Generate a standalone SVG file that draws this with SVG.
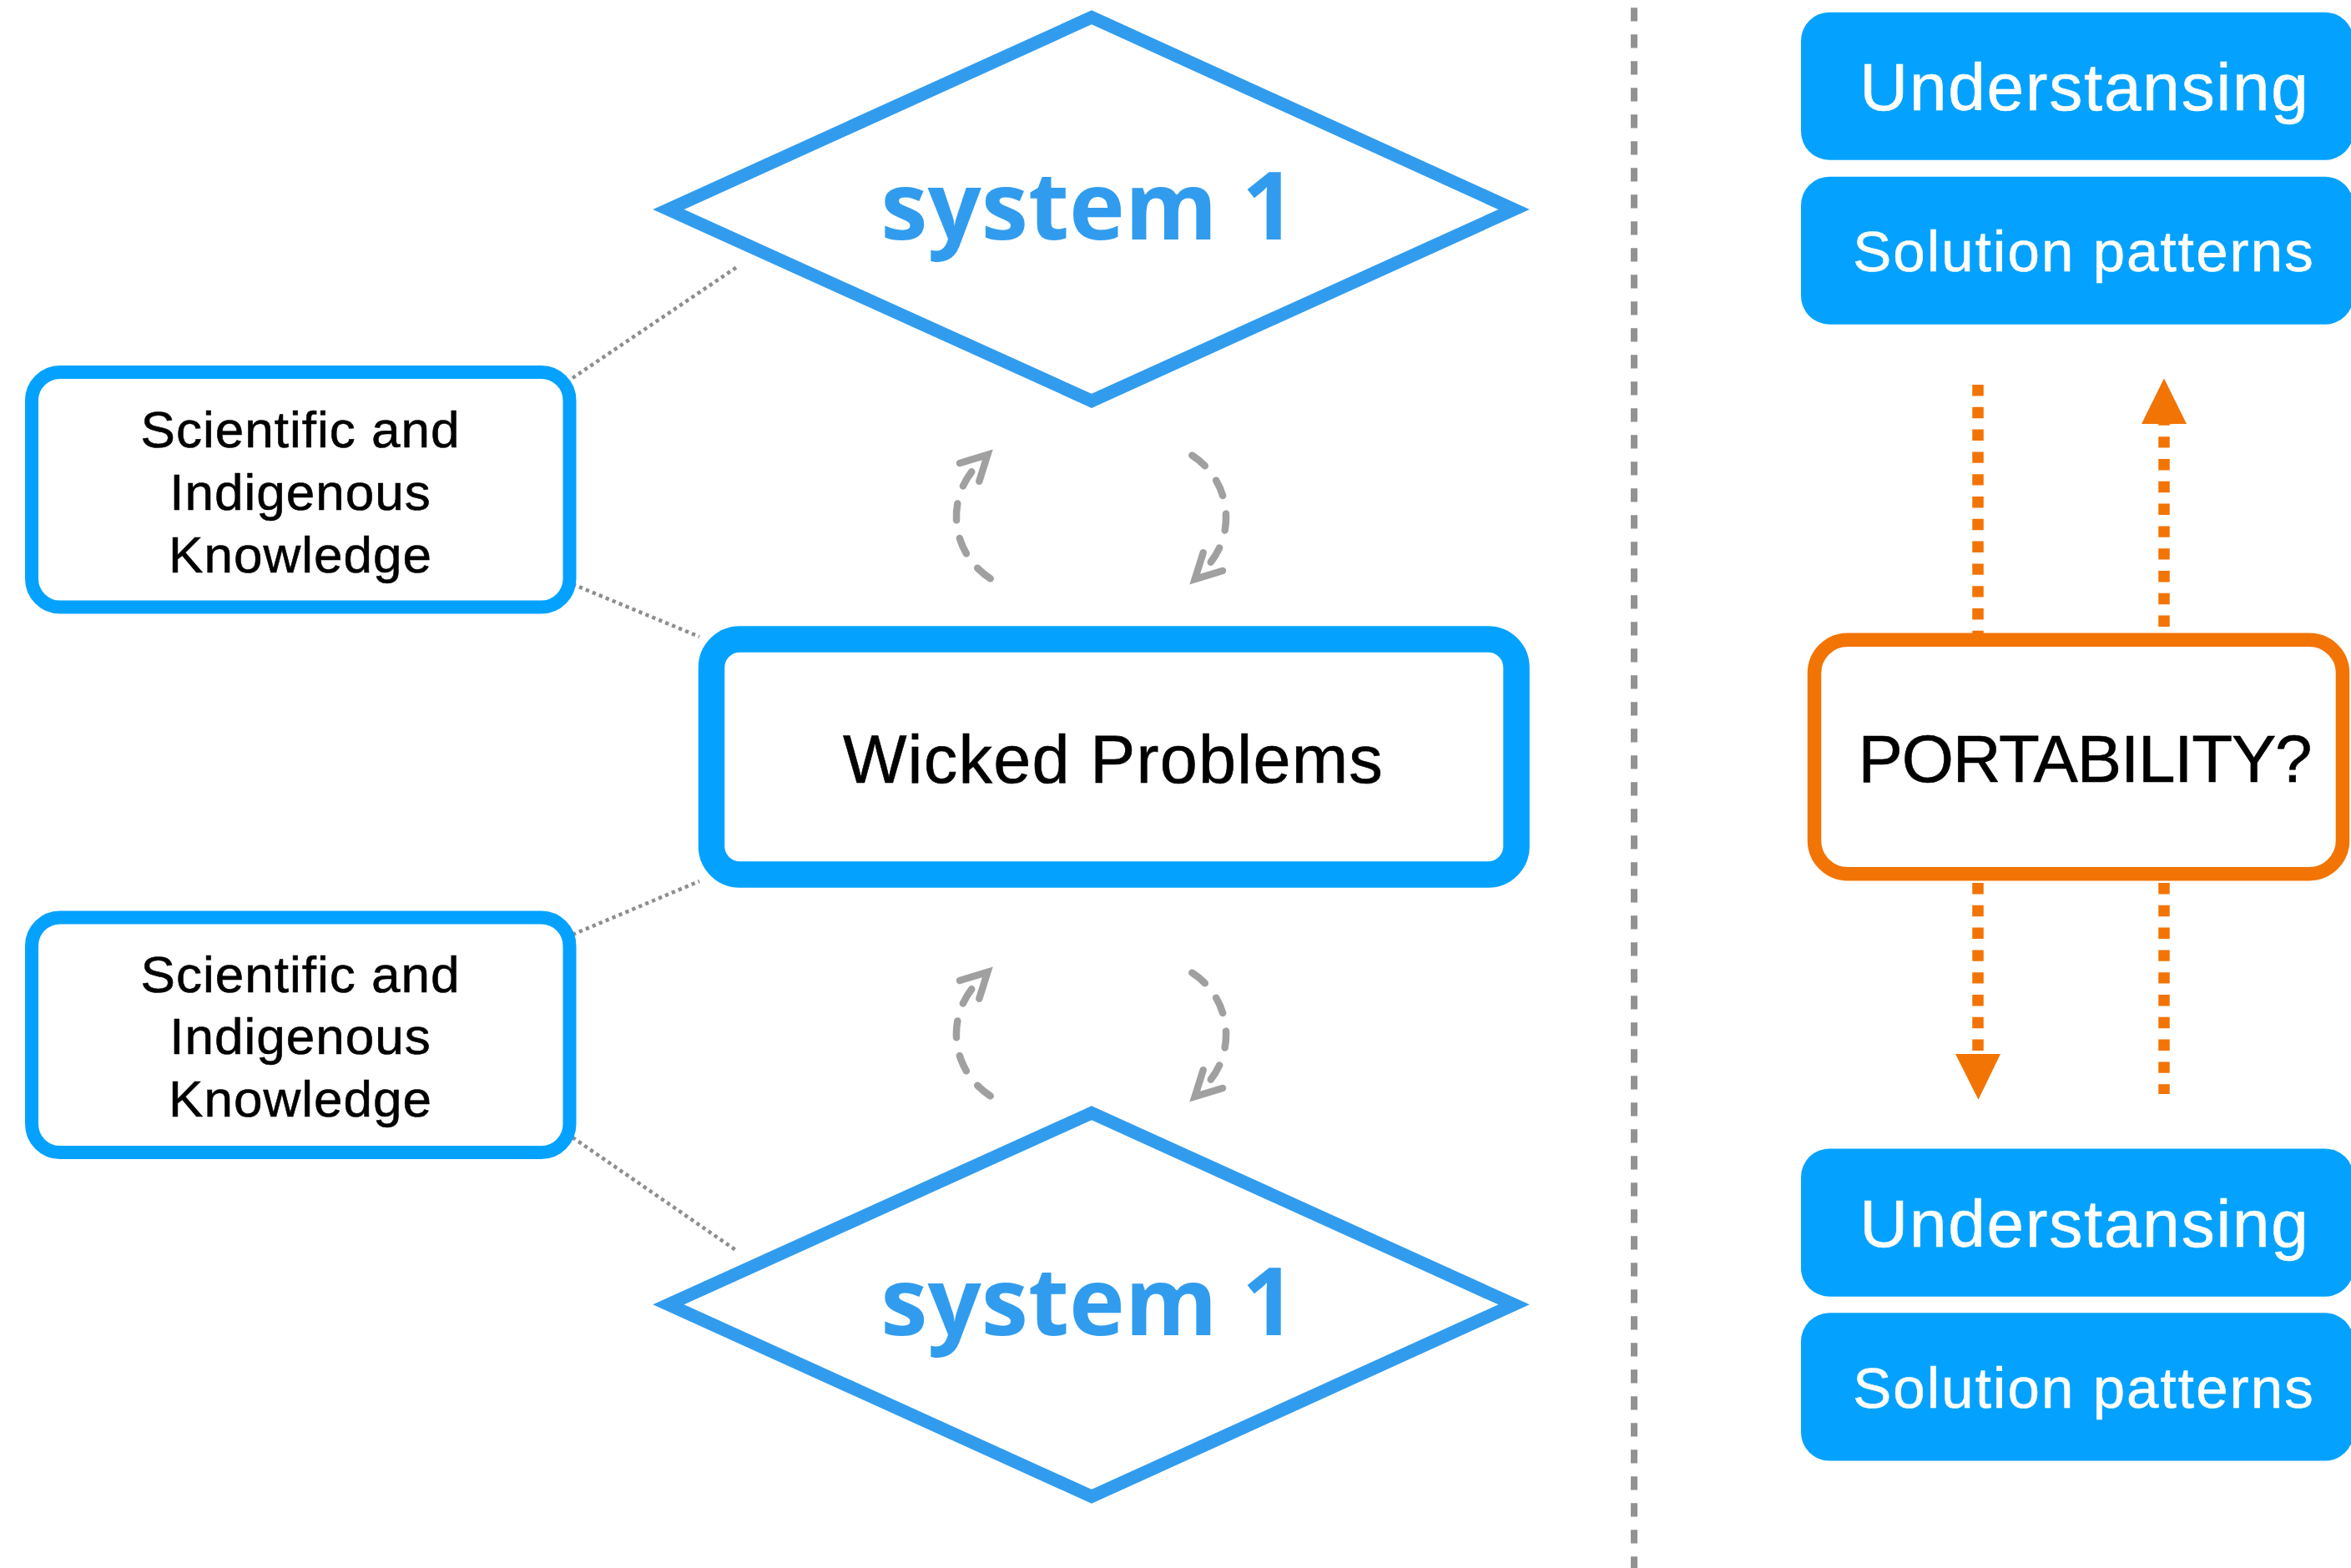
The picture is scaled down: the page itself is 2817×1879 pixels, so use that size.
<svg xmlns="http://www.w3.org/2000/svg" width="2817" height="1879" viewBox="0 0 2817 1879">
<defs>
<style>
.diag{fill:#fff;stroke:#319CEE;stroke-width:15.5;stroke-linejoin:miter}
.sys{font-family:"Open Sans","DejaVu Sans",sans-serif;font-weight:700;font-size:113px;fill:#319CEE;text-anchor:middle}
.kbox{fill:#fff;stroke:#04A2FE;stroke-width:16}
.wbox{fill:#fff;stroke:#04A2FE;stroke-width:31.5}
.pbox{fill:#fff;stroke:#F27405;stroke-width:16.5}
.bbox{fill:#04A2FE}
.t{font-family:"Liberation Sans",Arial,Helvetica,sans-serif;text-anchor:middle}
.ktxt{font-size:62px;fill:#000;letter-spacing:1px;stroke:#000;stroke-width:0.6px}
.wtxt{font-size:81px;fill:#000;letter-spacing:1.2px;stroke:#000;stroke-width:0.6px}
.ptxt{font-size:80px;fill:#000;letter-spacing:-1.2px;stroke:#000;stroke-width:0.6px}
.utxt{font-size:80px;fill:#fff;letter-spacing:1.8px;stroke:#fff;stroke-width:0.6px}
.stxt{font-size:69px;fill:#fff;letter-spacing:2.1px;stroke:#fff;stroke-width:0.6px}
.dot{fill:none;stroke:#8E8E8E;stroke-width:4.5;stroke-dasharray:4.3 4.3}
.cyc{fill:none;stroke:#A0A0A0;stroke-width:8.5;stroke-linecap:round;stroke-dasharray:20 22}
.chev{fill:none;stroke:#A0A0A0;stroke-width:8.5;stroke-linecap:round;stroke-linejoin:miter}
.sep{fill:none;stroke:#929292;stroke-width:8;stroke-dasharray:16.3 15.7}
.oline{fill:none;stroke:#F27405;stroke-width:13.5;stroke-dasharray:13.4 13.4}
.ohead{fill:#F27405}
</style>
<g id="cycle">
<path class="cyc" d="M1186.7 693.3 A88 88 0 0 1 1178.6 550.6"/>
<path class="chev" d="M1150 555 L1183.3 545 L1173.3 576.7"/>
</g>
</defs>
<rect width="2817" height="1879" fill="#fff"/>

<g id="connectors">
<line class="sep" x1="1958" y1="9.3" x2="1958" y2="1879"/>
<line class="dot" x1="686" y1="453" x2="883" y2="320"/>
<line class="dot" x1="686" y1="700" x2="838" y2="763"/>
<line class="dot" x1="686" y1="1120" x2="838" y2="1056"/>
<line class="dot" x1="686" y1="1363" x2="883" y2="1499"/>
<use href="#cycle"/>
<use href="#cycle" transform="rotate(180 1307.5 619.5)"/>
<use href="#cycle" transform="translate(0 620)"/>
<use href="#cycle" transform="translate(0 620) rotate(180 1307.5 619.5)"/>
<path class="oline" d="M2370 461 L2370 760"/>
<path class="oline" d="M2593 751 L2593 508"/>
<polygon class="ohead" points="2593,453.5 2566,508 2620,508"/>
<path class="oline" d="M2370 1058 L2370 1263"/>
<polygon class="ohead" points="2343,1263 2397,1263 2370.5,1317.7"/>
<path class="oline" d="M2593 1058 L2593 1311"/>
</g>

<g id="system1-top">
<path class="diag" d="M801 251 L1308 20.8 L1814 251 L1308 480.4 Z"/>
<text class="sys" x="1304" y="287.3">system 1</text>
</g>
<g id="system1-bottom">
<path class="diag" d="M801 1563.3 L1308 1333.7 L1814 1563.3 L1308 1793.3 Z"/>
<text class="sys" x="1304" y="1600">system 1</text>
</g>
<g id="knowledge-top">
<rect class="kbox" x="38" y="446" width="644.5" height="281.5" rx="34"/>
<text class="t ktxt" x="360" y="536">Scientific and</text>
<text class="t ktxt" x="360" y="610.7">Indigenous</text>
<text class="t ktxt" x="360" y="685.7">Knowledge</text>
</g>
<g id="knowledge-bottom">
<rect class="kbox" x="38" y="1099.5" width="644.5" height="281.5" rx="34"/>
<text class="t ktxt" x="360" y="1189.3">Scientific and</text>
<text class="t ktxt" x="360" y="1263.3">Indigenous</text>
<text class="t ktxt" x="360" y="1338.3">Knowledge</text>
</g>
<g id="wicked">
<rect class="wbox" x="852.5" y="766" width="964.5" height="282" rx="34"/>
<text class="t wtxt" x="1334" y="937.7">Wicked Problems</text>
</g>
<g id="portability">
<rect class="pbox" x="2174" y="766.7" width="633" height="280.5" rx="40"/>
<text class="t ptxt" x="2498" y="936.5">PORTABILITY?</text>
</g>
<g id="understanding-top">
<rect class="bbox" x="2158" y="14.7" width="662" height="177" rx="34"/>
<text class="t utxt" x="2498" y="132.3">Understansing</text>
</g>
<g id="solution-top">
<rect class="bbox" x="2158" y="211.7" width="662" height="177" rx="34"/>
<text class="t stxt" x="2497" y="325">Solution patterns</text>
</g>
<g id="understanding-bottom">
<rect class="bbox" x="2158" y="1376.4" width="662" height="177.3" rx="34"/>
<text class="t utxt" x="2498" y="1493.5">Understansing</text>
</g>
<g id="solution-bottom">
<rect class="bbox" x="2158" y="1573.3" width="662" height="177.2" rx="34"/>
<text class="t stxt" x="2497" y="1687">Solution patterns</text>
</g>
</svg>
